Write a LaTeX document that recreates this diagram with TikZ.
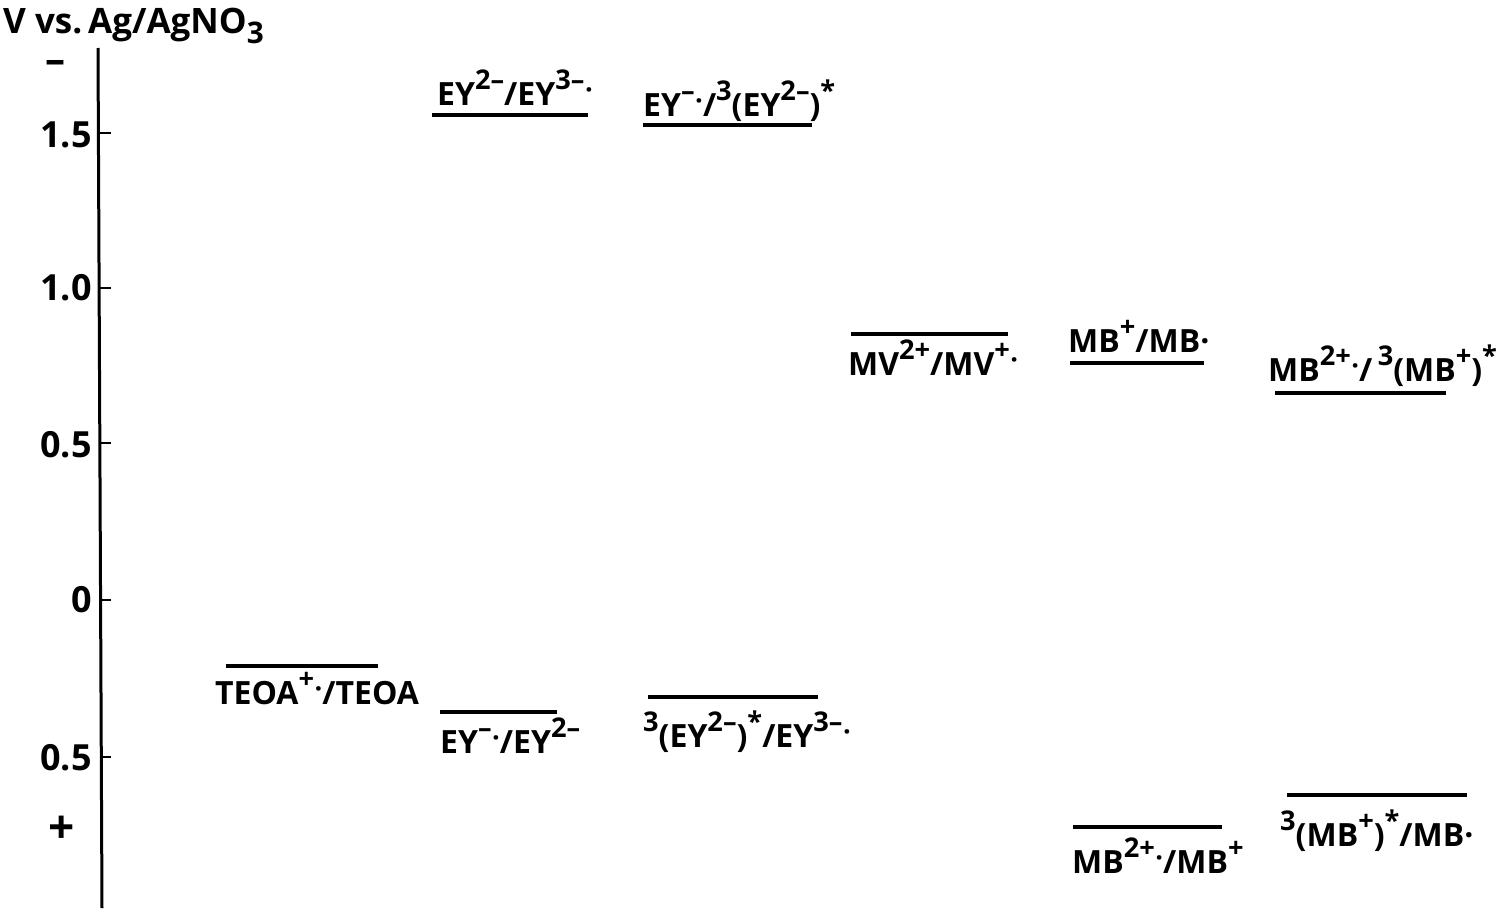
\documentclass[tikz,border=0pt]{standalone}
\usepackage{fontspec}
\setmainfont{Open Sans}
\usepackage{graphicx}
\newcommand\up[1]{\raisebox{0.5em}{\scalebox{0.85}{#1}}}
\newcommand\dn[1]{\raisebox{-0.3em}{\scalebox{0.85}{#1}}}
\newcommand\rdot[1]{#1\kern0.02em\raisebox{-0.4em}{·}}
\begin{document}
\begin{tikzpicture}[x=1pt,y=-1pt,
  lvl/.style={line width=3.5pt},
  lab/.style={anchor=base west,inner sep=0pt,font=\fontsize{32}{36}\selectfont\bfseries},
  axl/.style={anchor=base east,inner sep=0pt,font=\fontsize{36}{40}\selectfont\bfseries},
  tk/.style={line width=2pt}]
\useasboundingbox (0,0) rectangle (1506,910);
% axis
\coordinate (atop) at (98,48);
\coordinate (abot) at (102,908);
\draw[line width=3pt] (atop) -- (abot);
\foreach \y/\n in {133/a,288/b,443/c,600/d,757/e}{
  \coordinate (t\n) at (100,\y);
  \coordinate (u\n) at (111,\y);
  \draw[tk] (t\n) -- (u\n);
}
\node[anchor=base west,inner sep=0pt,font=\fontsize{35}{40}\selectfont\bfseries] (title) at (3,33) {V vs.\,Ag/AgNO\dn{3}};
\node[axl] (l15) at (92,147) {1.5};
\node[axl] (l10) at (92,300) {1.0};
\node[axl] (l05) at (92,457) {0.5};
\node[axl] (l00) at (92,612) {0};
\node[axl] (l05b) at (92,770) {0.5};
\node[inner sep=0pt,font=\fontsize{40}{44}\selectfont\bfseries] (minus) at (55,67) {–};
\node[inner sep=0pt,font=\fontsize{46}{50}\selectfont\bfseries] (plus) at (62,830) {+};
% levels
\coordinate (a1) at (432,115); \coordinate (b1) at (588,115);
\draw[lvl] (a1) -- (b1);
\node[lab] (n1) at (437,105) {EY\up{2–}/EY\up{\rdot{3–}}};
\coordinate (a2) at (643,125); \coordinate (b2) at (812,125);
\draw[lvl] (a2) -- (b2);
\node[lab] (n2) at (643,116) {EY\up{\rdot{–}}/\up{3}(EY\up{2–})\up{*}};
\coordinate (a3) at (851,334); \coordinate (b3) at (1008,334);
\draw[lvl] (a3) -- (b3);
\node[lab] (n3) at (848,375) {MV\up{2+}/MV\up{\rdot{+}}};
\coordinate (a4) at (1070,363); \coordinate (b4) at (1204,363);
\draw[lvl] (a4) -- (b4);
\node[lab] (n4) at (1068,352) {MB\up{+}/MB·};
\coordinate (a5) at (1275,393); \coordinate (b5) at (1446,393);
\draw[lvl] (a5) -- (b5);
\node[lab] (n5) at (1268,381) {MB\up{2\rdot{+}}/\,\up{3}(MB\up{+})\up{*}};
\coordinate (a6) at (226,666); \coordinate (b6) at (378,666);
\draw[lvl] (a6) -- (b6);
\node[lab] (n6) at (215,704) {TEOA\up{\rdot{+}}/TEOA};
\coordinate (a7) at (440,712); \coordinate (b7) at (557,712);
\draw[lvl] (a7) -- (b7);
\node[lab] (n7) at (440,753) {EY\up{\rdot{–}}/EY\up{2–}};
\coordinate (a8) at (648,697); \coordinate (b8) at (818,697);
\draw[lvl] (a8) -- (b8);
\node[lab] (n8) at (643,747) {\up{3}(EY\up{2–})\up{*}/EY\up{\rdot{3–}}};
\coordinate (a9) at (1073,827); \coordinate (b9) at (1222,827);
\draw[lvl] (a9) -- (b9);
\node[lab] (n9) at (1072,873) {MB\up{2\rdot{+}}/MB\up{+}};
\coordinate (a10) at (1287,795); \coordinate (b10) at (1467,795);
\draw[lvl] (a10) -- (b10);
\node[lab] (n10) at (1280,846) {\up{3}(MB\up{+})\up{*}/MB·};
\end{tikzpicture}
\end{document}
